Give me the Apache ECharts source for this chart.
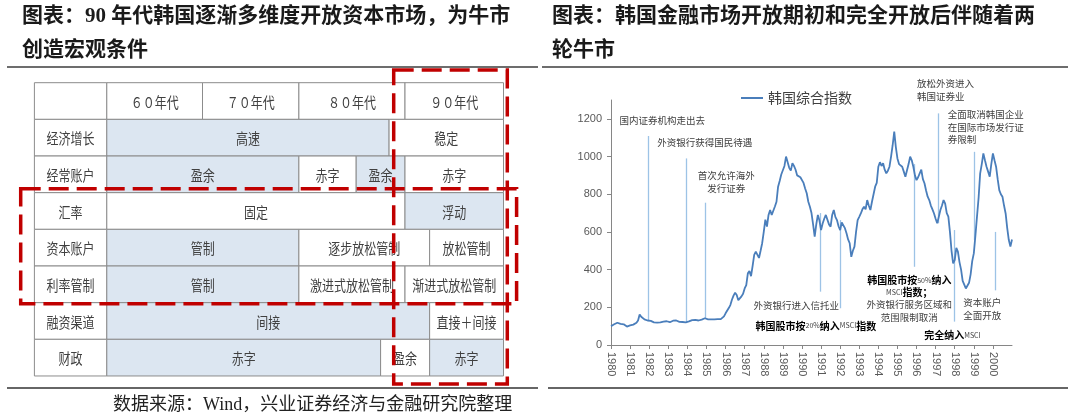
<!DOCTYPE html>
<html>
<head>
<meta charset="utf-8">
<script src="https://cdn.jsdelivr.net/npm/echarts@6/dist/echarts.min.js"></script>
<style>
  html, body { margin: 0; padding: 0; background: #fff; }
  #main { width: 1080px; height: 417px; }
</style>
</head>
<body>
<div id="main"></div>
<script>
// ---- 左表：韩国各年代宏观条件 ----
var decadeHeads = ["６０年代", "７０年代", "８０年代", "９０年代"];
var tableLabels = ["经济增长", "经常账户", "汇率", "资本账户", "利率管制", "融资渠道", "财政"];
// [文字, 起始年份, 结束年份, 是否高亮]
var growthCells = [["高速", 1960, 1988.5, true], ["稳定", 1988.5, 2000, false]];
var currentCells = [["盈余", 1960, 1980, true], ["赤字", 1980, 1985.4, false], ["盈余", 1985.4, 1990, true], ["赤字", 1990, 2000, false]];
var fxCells = [["固定", 1960, 1990, false], ["浮动", 1990, 2000, true]];
var capitalCells = [["管制", 1960, 1980, true], ["逐步放松管制", 1980, 1992.5, false], ["放松管制", 1992.5, 2000, false]];
var rateCells = [["管制", 1960, 1980, true], ["激进式放松管制", 1980, 1990, false], ["渐进式放松管制", 1990, 2000, false]];
var financeCells = [["间接", 1960, 1992.5, true], ["直接＋间接", 1992.5, 2000, false]];
var fiscalCells = [["赤字", 1960, 1987.7, true], ["盈余", 1987.7, 1992.5, false], ["赤字", 1992.5, 2000, true]];

// ---- 右图：韩国综合指数（月度，1980-01 起）----
var startYear = 1980;
var kospi = [
  100, 106, 110, 114, 118, 115, 112, 114, 110, 106, 98, 102,        // 1980
  104, 100, 108, 114, 118, 130, 162, 150, 140, 136, 133, 130,       // 1981
  132, 128, 124, 120, 116, 119, 123, 120, 118, 124, 121, 126,       // 1982
  124, 121, 126, 129, 124, 130, 126, 123, 126, 122, 118, 120,       // 1983
  118, 125, 130, 132, 129, 133, 132, 130, 134, 135, 137, 142,       // 1984
  140, 136, 134, 136, 133, 136, 134, 137, 138, 137, 141, 152,       // 1985
  168, 178, 196, 212, 240, 262, 277, 265, 238, 230, 258, 272,       // 1986
  300, 318, 380, 392, 365, 420, 478, 495, 486, 462, 500, 540,       // 1987
  600, 665, 628, 690, 716, 690, 681, 735, 760, 840, 870, 905,       // 1988
  915, 950, 1000, 1008, 940, 925, 965, 950, 930, 900, 905, 890,     // 1989
  884, 860, 830, 805, 760, 734, 700, 640, 575, 640, 690, 660,       // 1990
  610, 645, 670, 690, 681, 640, 628, 690, 716, 680, 663, 630,       // 1991
  610, 650, 646, 620, 593, 560, 540, 468, 500, 522, 600, 663,       // 1992
  680, 698, 720, 734, 720, 769, 740, 716, 760, 800, 840, 860,       // 1993
  946, 970, 950, 964, 930, 911, 925, 946, 1000, 1060, 1132, 1050,   // 1994
  990, 960, 970, 946, 920, 893, 900, 960, 999, 980, 946, 900,       // 1995
  875, 890, 911, 930, 880, 858, 820, 787, 769, 740, 720, 698,       // 1996
  670, 646, 680, 716, 740, 769, 750, 700, 681, 600, 500, 433,       // 1997
  450, 515, 495, 440, 400, 340, 320, 300, 305, 330, 375, 445,       // 1998
  486, 580, 681, 780, 911, 960, 1017, 980, 946, 920, 893, 960,      // 1999
  1017, 980, 946, 880, 822, 800, 787, 740, 698, 620, 557, 522,      // 2000
  560                                                               // 2001
];
var yearTicks = [1980, 2001];
var valueTicks = [0, 1300, 200];

// 事件竖线 [年份, 下端, 上端]
var eventLines = [
  [1981.95, 132, 1109], [1983.93, 123, 990], [1984.92, 143, 755],
  [1990.98, 283, 700], [1992.0, 195, 663], [1995.9, 415, 960],
  [1997.12, 646, 1229], [1997.99, 124, 610], [1999.02, 557, 1025],
  [2000.12, 290, 600]
];
// 事件说明
var notes = [
  { text: "国内证券机构走出去", at: [1980.44, 1194], align: "left" },
  { text: "外资银行获得国民待遇", at: [1982.42, 1077], align: "left" },
  { text: "首次允许海外\n发行证券", at: [1986.04, 865], align: "center" },
  { text: "放松外资进入\n韩国证券业", at: [1996.02, 1353], align: "left" },
  { text: "全面取消韩国企业\n在国际市场发行证\n券限制", at: [1997.64, 1157], align: "left" },
  { text: "外资银行进入信托业", at: [1989.7, 208], align: "center" },
  { text: "{b|韩国股市按}{s|20%}{b|纳入}{s|MSCI}{b|指数}", at: [1990.73, 102], align: "center" },
  { text: "{b|韩国股市按}{s|50%}{b|纳入}\n{s|MSCI}{b|指数；}\n外资银行服务区域和\n范围限制取消", at: [1995.62, 246], align: "center" },
  { text: "{b|完全纳入}{s|MSCI}", at: [1997.88, 53], align: "center" },
  { text: "资本账户\n全面开放", at: [1999.44, 191], align: "center" }
];

var cjk = '"Noto Sans CJK SC", sans-serif';
var serifCjk = '"Liberation Serif", "Noto Sans CJK SC", serif';

var lineData = kospi.map(function (v, i) {
  return [startYear + i / 12, v];
});

var myChart = echarts.init(document.getElementById("main"));
var option = {
  animation: false,
  backgroundColor: "#fff",
  grid: { left: 611, right: 68, top: 100, bottom: 72, containLabel: false },
  legend: {
    data: ["韩国综合指数"],
    left: 736,
    top: 86,
    icon: "rect",
    itemWidth: 22,
    itemHeight: 2,
    textStyle: { fontSize: 14, color: "#404040", fontFamily: cjk }
  },
  xAxis: {
    type: "value",
    min: yearTicks[0],
    max: yearTicks[1],
    interval: 1,
    axisLine: { lineStyle: { color: "#868686" } },
    axisTick: { length: 4, lineStyle: { color: "#868686" } },
    axisLabel: {
      rotate: -90,
      margin: 7,
      fontSize: 11,
      color: "#595959",
      fontFamily: "Liberation Sans, sans-serif",
      showMaxLabel: false,
      formatter: function (v) { return String(v); }
    },
    splitLine: { show: false }
  },
  yAxis: {
    type: "value",
    min: valueTicks[0],
    max: valueTicks[1],
    interval: valueTicks[2],
    axisLine: { show: true, lineStyle: { color: "#868686" } },
    axisTick: { show: true, length: 4, lineStyle: { color: "#868686" } },
    axisLabel: {
      margin: 9,
      fontSize: 11,
      color: "#595959",
      fontFamily: "Liberation Sans, sans-serif",
      showMaxLabel: false,
      formatter: function (v) { return String(v); }
    },
    splitLine: { show: false }
  },
  series: [
    {
      name: "韩国综合指数",
      type: "line",
      data: lineData,
      showSymbol: false,
      symbol: "none",
      z: 3,
      lineStyle: { color: "#4A7EBB", width: 1.8 },
      itemStyle: { color: "#4A7EBB" },
      markLine: {
        silent: true,
        z: 1,
        symbol: ["none", "none"],
        label: { show: false },
        lineStyle: { color: "#9DC3E6", width: 1.3, type: "solid" },
        data: eventLines.map(function (e) {
          return [{ coord: [e[0], e[1]] }, { coord: [e[0], e[2]] }];
        })
      }
    }
  ]
};
option && myChart.setOption(option);

// ---- graphic：标题、表格、注释 ----
var els = [];

function txt(x, y, text, opt) {
  opt = opt || {};
  return {
    type: "text",
    x: x,
    y: y,
    scaleX: opt.scaleX || 1,
    z: opt.z || 10,
    style: {
      text: text,
      fill: opt.fill || "#404040",
      fontSize: opt.fontSize || 15,
      fontWeight: opt.fontWeight || "normal",
      fontFamily: opt.fontFamily || cjk,
      align: opt.align || "center",
      verticalAlign: "middle",
      lineHeight: opt.lineHeight,
      rich: opt.rich
    }
  };
}
function line(x1, y1, x2, y2, color, w) {
  return { type: "line", z: 5, shape: { x1: x1, y1: y1, x2: x2, y2: y2 }, style: { stroke: color, lineWidth: w } };
}

// 标题与分隔线
var titleOpt = { align: "left", fontSize: 21, fontWeight: "bold", fill: "#1a1a1a", fontFamily: serifCjk };
els.push(txt(22, 17, "图表：90 年代韩国逐渐多维度开放资本市场，为牛市", titleOpt));
els.push(txt(22, 51, "创造宏观条件", titleOpt));
els.push(txt(552, 17, "图表：韩国金融市场开放期初和完全开放后伴随着两", titleOpt));
els.push(txt(552, 51, "轮牛市", titleOpt));
els.push(line(7, 67, 538, 67, "#6d6d6d", 2));
els.push(line(542, 67, 1068, 67, "#6d6d6d", 2));
els.push(line(7, 388, 538, 388, "#333", 1.5));
els.push(line(548, 388, 1068, 388, "#333", 1.5));
els.push(txt(113, 405, "数据来源：Wind，兴业证券经济与金融研究院整理", { align: "left", fontSize: 18, fill: "#222", fontFamily: serifCjk }));

// 表格
var tableLeft = 34.4, labelRight = 106.8, rowTop = 82.7, rowH = 36.66;
var decadeX = [106.8, 202.5, 298.9, 405, 503.5];
function yearToX(y) {
  var d = Math.min(3, Math.max(0, Math.floor((y - 1960) / 10)));
  return decadeX[d] + (y - (1960 + d * 10)) / 10 * (decadeX[d + 1] - decadeX[d]);
}
function cell(x1, x2, r, text, shaded) {
  var y = rowTop + r * rowH;
  els.push({
    type: "rect", z: 6,
    shape: { x: x1, y: y, width: x2 - x1, height: rowH },
    style: { fill: shaded ? "#DCE6F1" : "#fff", stroke: "#8c8c8c", lineWidth: 1 }
  });
  if (text) els.push(txt((x1 + x2) / 2, y + rowH / 2 + 1, text, { scaleX: 0.8, z: 7 }));
}
cell(tableLeft, labelRight, 0, "", false);
decadeHeads.forEach(function (h, i) { cell(decadeX[i], decadeX[i + 1], 0, h, false); });
var rows = [growthCells, currentCells, fxCells, capitalCells, rateCells, financeCells, fiscalCells];
rows.forEach(function (cells, r) {
  cell(tableLeft, labelRight, r + 1, tableLabels[r], false);
  cells.forEach(function (c) { cell(yearToX(c[1]), yearToX(c[2]), r + 1, c[0], c[3]); });
});

// 红色虚线框
var dash = { fill: "none", stroke: "#C00000", lineWidth: 3.5, lineDash: [20, 8] };
els.push({ type: "rect", z: 20, shape: { x: 393.7, y: 70, width: 113.6, height: 314 }, style: dash });
els.push({ type: "rect", z: 20, shape: { x: 20.7, y: 188.8, width: 495.9, height: 114.9 }, style: dash });

// 事件说明
var rich = {
  b: { fontSize: 10, fontWeight: "bold", fill: "#000", fontFamily: cjk },
  s: { fontSize: 7, fill: "#404040", fontFamily: cjk }
};
notes.forEach(function (n) {
  var p = myChart.convertToPixel({ xAxisIndex: 0, yAxisIndex: 0 }, n.at);
  els.push(txt(p[0], p[1], n.text, {
    align: n.align, fontSize: 9.5, fill: "#404040", lineHeight: 12.5, rich: rich, z: 30
  }));
});

myChart.setOption({ graphic: { elements: els } });
</script>
</body>
</html>
